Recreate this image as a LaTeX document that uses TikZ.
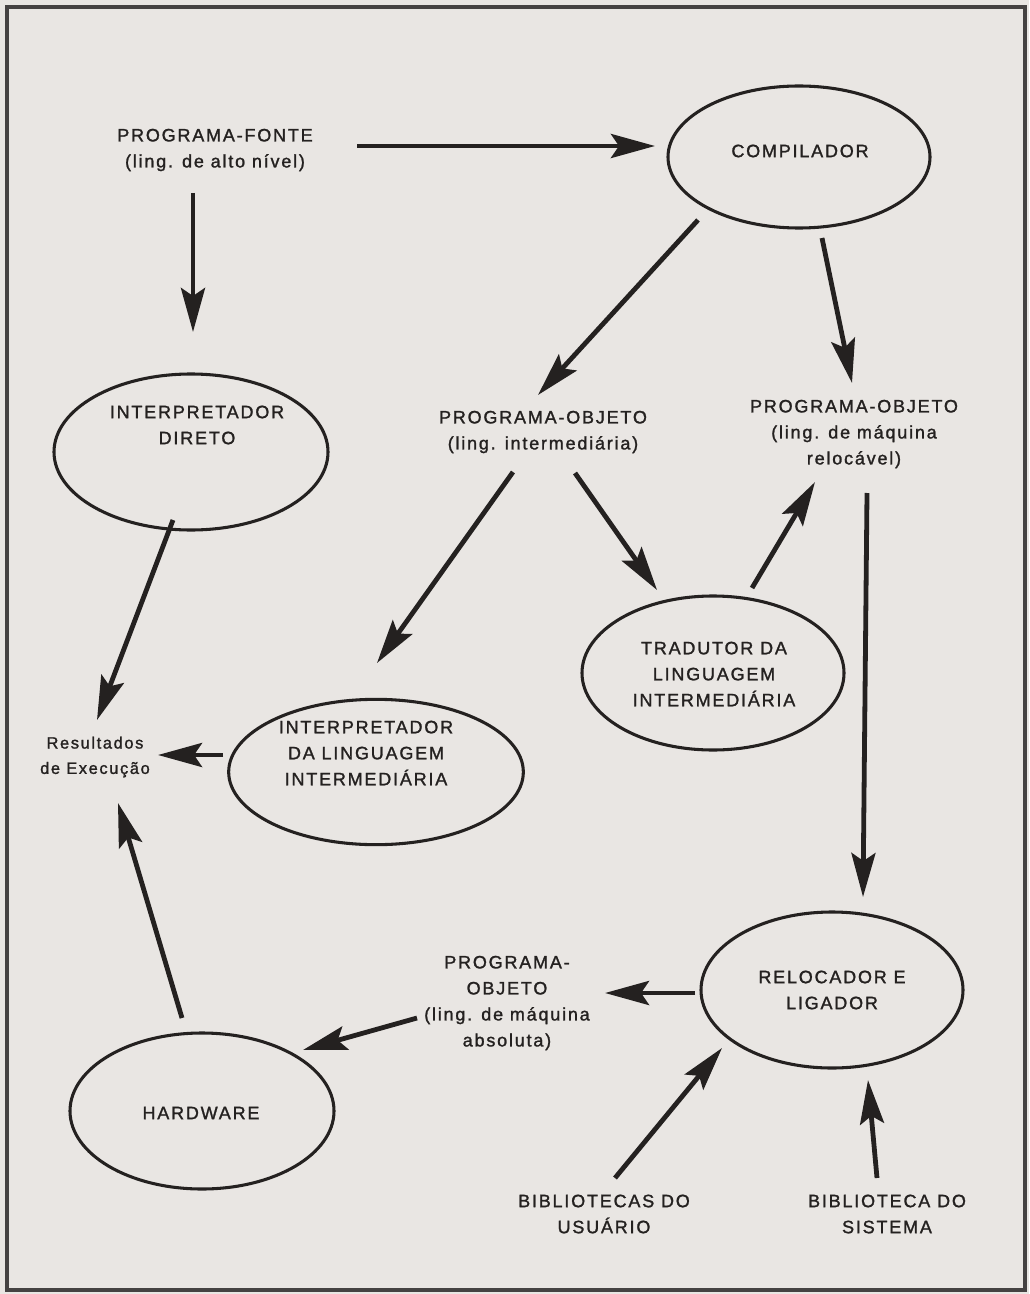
\documentclass[tikz,border=0pt]{standalone}
\usepackage{fontspec}
\setmainfont{Liberation Sans}[LetterSpace=10,FakeBold=1.4]
\usetikzlibrary{arrows.meta,shapes.geometric,calc}
\definecolor{paper}{RGB}{233,230,227}
\definecolor{ink}{RGB}{36,33,32}
\begin{document}
\begin{tikzpicture}[x=0.75pt,y=-0.75pt,
  ell/.style={draw=ink,line width=2.3pt,ellipse,inner sep=0pt},
  lbl/.style={text=ink,align=center,inner sep=0pt,font=\fontsize{13.5}{19.5}\selectfont},
  smalllbl/.style={text=ink,align=center,inner sep=0pt,font=\fontsize{12.3}{19}\selectfont},
  arr/.style={draw=ink,line width=3.6pt,-{Stealth[length=33pt,width=18pt,inset=6pt]}}]
\fill[paper] (0,0) rectangle (1029,1294);
\useasboundingbox (0,0) rectangle (1029,1294);
\draw[ink!85,line width=2.5pt] (7,1290) -- (7,7) -- (1025,7) -- (1025,1290) -- cycle;

% ellipses
\node[ell,minimum width=196.5pt,minimum height=106.5pt] (comp) at (799,157) {};
\node[ell,minimum width=205.5pt,minimum height=117pt] (dir) at (191,452) {};
\node[ell,minimum width=221pt,minimum height=109pt] (ili) at (376,772) {};
\node[ell,minimum width=196.5pt,minimum height=115.5pt] (trad) at (713,673) {};
\node[ell,minimum width=196.5pt,minimum height=117pt] (reloc) at (832,990) {};
\node[ell,minimum width=198pt,minimum height=117pt] (hw) at (202,1111) {};

% texts in ellipses
\node[lbl] (compt) at (800,151) {COMPILADOR};
\node[lbl] (dirt) at (197,425) {INTERPRETADOR\\DIRETO};
\node[lbl] (ilit) at (366,753) {INTERPRETADOR\\DA LINGUAGEM\\INTERMEDIÁRIA};
\node[lbl] (tradt) at (714,674) {TRADUTOR DA\\LINGUAGEM\\INTERMEDIÁRIA};
\node[lbl] (reloct) at (832,990) {RELOCADOR E\\LIGADOR};
\node[lbl] (hwt) at (201,1113) {HARDWARE};

% free labels
\node[lbl] (pf) at (215,150) {PROGRAMA-FONTE\\(ling. de alto nível)};
\node[lbl] (poi) at (543,432) {PROGRAMA-OBJETO\\(ling. intermediária)};
\node[lbl] (por) at (854,434) {PROGRAMA-OBJETO\\(ling. de máquina\\relocável)};
\node[lbl] (poa) at (507,1003) {PROGRAMA-\\OBJETO\\(ling. de máquina\\absoluta)};
\node[smalllbl] (res) at (95,757) {Resultados\\de Execução};
\node[lbl] (bu) at (604,1214) {BIBLIOTECAS DO\\USUÁRIO};
\node[lbl] (bs) at (887,1214) {BIBLIOTECA DO\\SISTEMA};

% connectors
\draw[arr] ($(pf)+(142,-4)$) -- ($(comp)+(-144,-11)$);
\draw[arr] ($(pf)+(-22,43)$) -- ($(dir)+(2,-120)$);
\draw[arr] ($(comp)+(-101,63)$) -- ($(poi)+(-5,-37)$);
\draw[arr] ($(comp)+(23,81)$) -- ($(por)+(-2,-51)$);
\draw[arr] ($(dir)+(-18,68)$) -- ($(res)+(2,-37)$);
\draw[arr] ($(poi)+(-30,40)$) -- ($(ili)+(1,-109)$);
\draw[arr] ($(poi)+(32,41)$) -- ($(trad)+(-56,-83)$);
\draw[arr] ($(trad)+(39,-85)$) -- ($(por)+(-39,48)$);
\draw[arr] ($(por)+(13,59)$) -- ($(reloc)+(31,-93)$);
\draw[arr] ($(ili)+(-153,-17)$) -- ($(res)+(63,-2)$);
\draw[arr] ($(reloc)+(-137,3)$) -- ($(poa)+(98,-10)$);
\draw[arr] ($(poa)+(-90,15)$) -- ($(hw)+(101,-61)$);
\draw[arr] ($(hw)+(-20,-93)$) -- ($(res)+(23,46)$);
\draw[arr] ($(bu)+(11,-36)$) -- ($(reloc)+(-110,58)$);
\draw[arr] ($(bs)+(-10,-36)$) -- ($(reloc)+(36,90)$);
\end{tikzpicture}
\end{document}
